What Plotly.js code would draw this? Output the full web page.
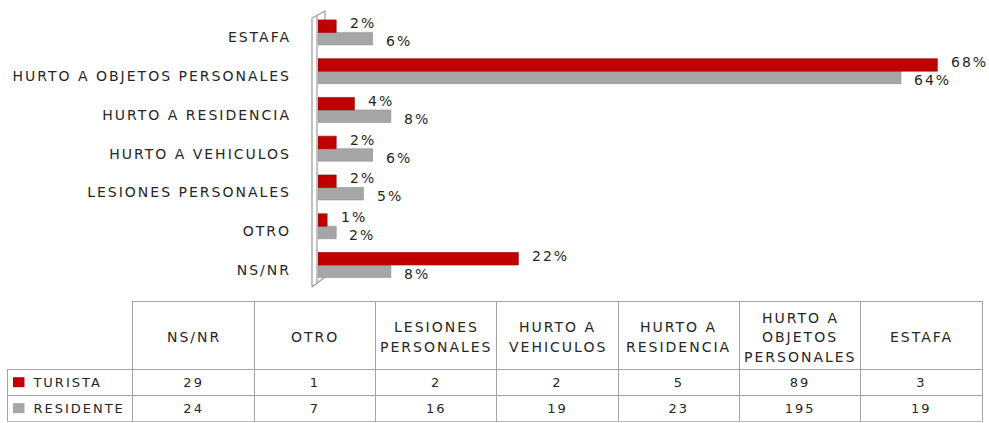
<!DOCTYPE html>
<html><head><meta charset="utf-8">
<script src="https://cdn.plot.ly/plotly-3.0.1.min.js"></script>
<style>
html,body{margin:0;padding:0;background:#fff;}
#chart{width:989px;height:423px;}
svg text{letter-spacing:2px;}
</style></head><body><div id="chart"></div>
<script>
// ---- data ----
const categories = ["NS/NR","OTRO","LESIONES PERSONALES","HURTO A VEHICULOS","HURTO A RESIDENCIA","HURTO A OBJETOS PERSONALES","ESTAFA"];
const tableHeaders = ["NS/NR","OTRO","LESIONES<br>PERSONALES","HURTO A<br>VEHICULOS","HURTO A<br>RESIDENCIA","HURTO A<br>OBJETOS<br>PERSONALES","ESTAFA"];
const seriesNames = ["TURISTA","RESIDENTE"];
const turistaPct = [22,1,2,2,4,68,2];
const residentePct = [8,2,5,6,8,64,6];
const turistaCount = [29,1,2,2,5,89,3];
const residenteCount = [24,7,16,19,23,195,19];

// ---- style ----
const RED='#C00000', GRAY='#A6A6A6', TXT='#262626', LINE='#A3A3A3';
const FONT='DejaVu Sans', FS=14;
const W=989,H=423, ML=7, MR=7, MT=13, MB=1;
const PW=W-ML-MR, PH=H-MT-MB;
const px2x = p => (p-ML)/PW;
const px2y = p => (H-MB-p)/PH;
const firstColW = 126, colW = 121.3;
const colWidths = [firstColW].concat(categories.map(()=>colW));
const tableTop = 301.7, headH = 68, rowH = 26;

const resTrace = {
  type:'bar', orientation:'h', name:seriesNames[1], y:categories, x:residentePct,
  marker:{color:GRAY, line:{color:'#8e8e8e', width:0.6}}, hoverinfo:'skip'
};
const turTrace = {
  type:'bar', orientation:'h', name:seriesNames[0], y:categories, x:turistaPct,
  marker:{color:RED, line:{color:'#8f0000', width:0.6}}, hoverinfo:'skip'
};

const NB='\u00a0';
const rowLabels = seriesNames.map(n => NB+NB+NB+n);
const tableTrace = {
  type:'table',
  domain:{x:[0,1], y:[0, px2y(tableTop)]},
  columnwidth: colWidths,
  header:{
    values: colWidths.map(()=>''),
    height:headH,
    line:{color:['rgba(0,0,0,0)'].concat(categories.map(()=>LINE)), width:1},
    fill:{color:'rgba(0,0,0,0)'}
  },
  cells:{
    values:[rowLabels].concat(categories.map((c,i)=>[String(turistaCount[i]), String(residenteCount[i])])),
    height:rowH,
    align:['left'].concat(categories.map(()=>'center')),
    line:{color:LINE, width:1},
    fill:{color:'white'},
    font:{family:FONT, size:13, color:TXT}
  }
};

const annotations = [];
// value labels next to bars
categories.forEach((c,i)=>{
  annotations.push({xref:'x', yref:'y', x:turistaPct[i], y:c, text:turistaPct[i]+'%', showarrow:false,
    xanchor:'left', yanchor:'middle', xshift:12, yshift:9, font:{family:FONT,size:FS,color:TXT}});
  annotations.push({xref:'x', yref:'y', x:residentePct[i], y:c, text:residentePct[i]+'%', showarrow:false,
    xanchor:'left', yanchor:'middle', xshift:11, yshift:-9, font:{family:FONT,size:FS,color:TXT}});
});
// table header labels (vertically centred)
tableHeaders.forEach((h,i)=>{
  const lines = h.split('<br>');
  const cx = ML + firstColW + colW*i + colW/2;
  lines.forEach((ln,j)=>{
    annotations.push({
      xref:'paper', yref:'paper', x:px2x(cx), y:px2y(tableTop + headH/2 + 1.5),
      text:ln, showarrow:false, xanchor:'center', yanchor:'middle',
      yshift:((lines.length-1)/2 - j)*19.5,
      font:{family:FONT,size:FS,color:TXT}
    });
  });
});

// legend swatches in row-label cells
const swatchColors=[RED, GRAY];
const shapes = swatchColors.map((col,k)=>({
  type:'rect', xref:'paper', yref:'paper', layer:'above',
  x0:px2x(13), x1:px2x(24.5),
  y0:px2y(tableTop+headH+rowH*k+7.5), y1:px2y(tableTop+headH+rowH*k+17.5),
  fillcolor:col, line:{width:0}
}));
// 3D axis wall
const P = (x,y)=> px2x(x).toFixed(5)+','+px2y(y).toFixed(5);
shapes.push({
  type:'path', xref:'paper', yref:'paper', layer:'below',
  path:'M'+P(312,287)+' L'+P(312,18)+' L'+P(325,11)+' L'+P(325,20)+
       ' M'+P(317,15.3)+' L'+P(317,283.2)+' M'+P(312,287)+' L'+P(325,277),
  line:{color:'#9a9a9a', width:1.2}
});

const layout = {
  width:W, height:H,
  margin:{l:ML, r:MR, t:MT, b:MB},
  paper_bgcolor:'#fff', plot_bgcolor:'rgba(0,0,0,0)',
  font:{family:FONT, size:FS, color:TXT},
  showlegend:false,
  barmode:'group', bargap:0.355, bargroupgap:0,
  xaxis:{domain:[px2x(318),1], range:[0,72.9], visible:false, fixedrange:true},
  yaxis:{domain:[px2y(284.4),1], type:'category', categoryorder:'array', categoryarray:categories,
    range:[-0.5,6.5], showgrid:false, zeroline:false, showline:false, ticks:'',
    ticklabelstandoff:26, ticklabelshift:5, tickfont:{family:FONT,size:FS,color:TXT}, fixedrange:true},
  shapes:shapes,
  annotations: annotations
};

Plotly.newPlot('chart',[resTrace, turTrace, tableTrace], layout, {displayModeBar:false, staticPlot:true});
</script></body></html>
